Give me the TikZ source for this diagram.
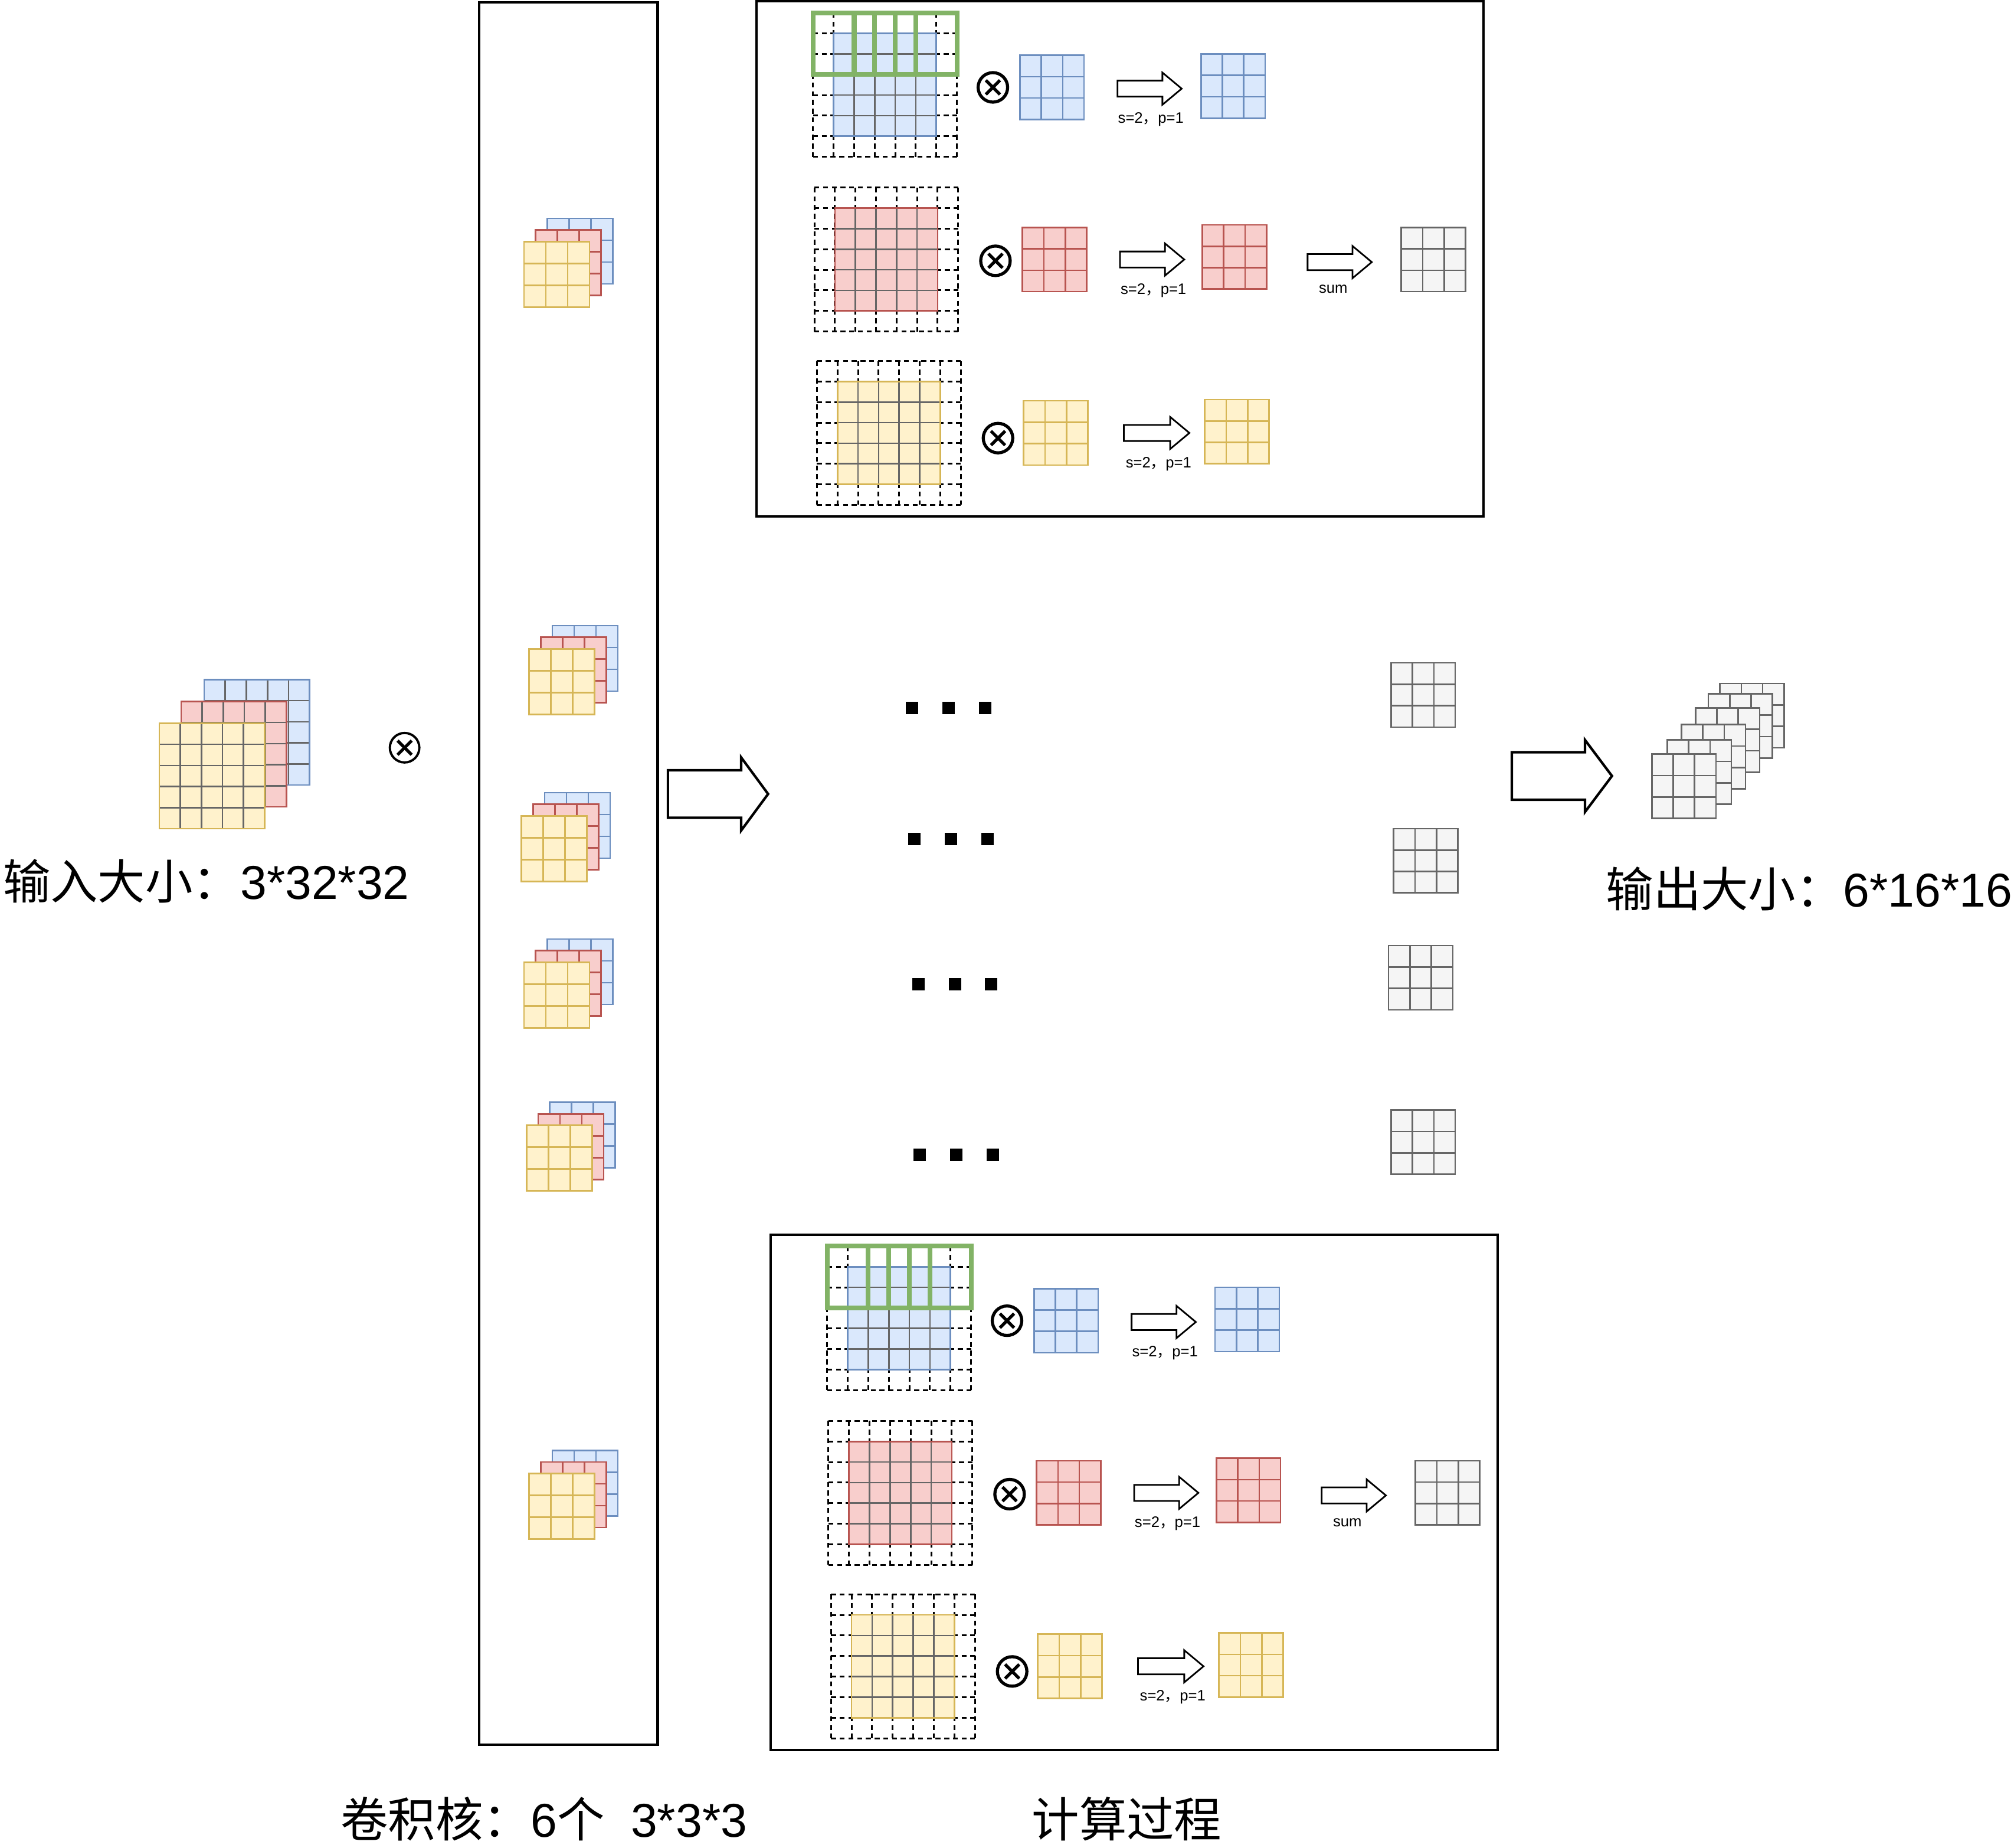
\documentclass[tikz,border=0pt]{standalone}
\usepackage{fontspec}
\setmainfont{Liberation Sans}
\newfontfamily\cjk{Noto Sans CJK SC}
\usepackage{tikz}
\usetikzlibrary{calc}
\usepackage{xcolor}
\definecolor{cvBlueF}{HTML}{DAE8FC}
\definecolor{cvBlueD}{HTML}{6C8EBF}
\definecolor{cvRedF}{HTML}{F8CECC}
\definecolor{cvRedD}{HTML}{B85450}
\definecolor{cvYelF}{HTML}{FFF2CC}
\definecolor{cvYelD}{HTML}{D6B656}
\definecolor{cvGrayF}{HTML}{F5F5F5}
\definecolor{cvGrayD}{HTML}{666666}
\definecolor{cvGreen}{HTML}{82B366}
% feature map: x, y, cells, size, fill, inner lines, border
\newcommand{\cvmap}[7]{
  \begin{scope}[shift={(#1,#2)}]
    \fill[#5] (0,0) rectangle (#4,#4);
    \foreach \k in {1,...,#3}{
      \draw[#6, line width=0.75pt] ({\k*#4/#3},0) -- ({\k*#4/#3},#4);
      \draw[#6, line width=0.75pt] (0,{\k*#4/#3}) -- (#4,{\k*#4/#3});}
    \draw[#7, line width=0.75pt] (0,0) rectangle (#4,#4);
  \end{scope}}
% kernel 3*3*3 stack, blue layer at x, y
\newcommand{\cvkern}[2]{
  \cvmap{#1}{#2}{3}{51}{cvBlueF}{cvBlueD}{cvBlueD}
  \cvmap{#1-9}{#2+9}{3}{51}{cvRedF}{cvRedD}{cvRedD}
  \cvmap{#1-18}{#2+18}{3}{51}{cvYelF}{cvYelD}{cvYelD}}
% padded 5*5 map inside a dashed 7*7 frame
\newcommand{\cvpad}[4]{
  \foreach \k in {0,...,7}{
    \draw[dgrid] ({#1+\k*16},#2) -- ++(0,112);
    \draw[dgrid] (#1,{#2+\k*16}) -- ++(112,0);}
  \cvmap{#1+16}{#2+16}{5}{80}{#3}{cvGrayD}{#4}}
% block arrow: x, y (tail middle), length, body, head, head length, line width
\newcommand{\cvarrow}[7]{
  \draw[line width=#7, fill=white, line join=miter] (#1,#2-#4/2) -- (#1+#3-#6,#2-#4/2)
    -- (#1+#3-#6,#2-#5/2) -- (#1+#3,#2) -- (#1+#3-#6,#2+#5/2)
    -- (#1+#3-#6,#2+#4/2) -- (#1,#2+#4/2) -- cycle;}
% one computation box: name prefix, shift
\newcommand{\cvcalc}[3]{
  \begin{scope}[shift={(#2,#3)}]
    \draw[frame] (589,1) rectangle (1155,402);
    \cvpad{633}{10}{cvBlueF}{cvBlueD}
    \cvpad{634}{146}{cvRedF}{cvRedD}
    \cvpad{636}{281}{cvYelF}{cvYelD}
    \foreach \g in {0,2,4}{\draw[win] ({633+\g*16},10) rectangle ++(48,48);}
    \node[otimes] (#1o1) at (773,68) {};
    \node[otimes] (#1o2) at (775,203) {};
    \node[otimes] (#1o3) at (777,341) {};
    \cvmap{794}{43}{3}{50}{cvBlueF}{cvBlueD}{cvBlueD}
    \cvmap{796}{177}{3}{50}{cvRedF}{cvRedD}{cvRedD}
    \cvmap{797}{312}{3}{50}{cvYelF}{cvYelD}{cvYelD}
    \cvarrow{870}{69}{50}{12.5}{25}{15}{0.8pt}
    \cvarrow{872}{202}{50}{12.5}{25}{15}{0.8pt}
    \cvarrow{875}{337}{51}{12.5}{25}{15}{0.8pt}
    \node[sml] (#1s1) at (896,93) {s=2{\cjk ，}p=1};
    \node[sml] (#1s2) at (898,226) {s=2{\cjk ，}p=1};
    \node[sml] (#1s3) at (902,361) {s=2{\cjk ，}p=1};
    \cvmap{935}{42}{3}{50}{cvBlueF}{cvBlueD}{cvBlueD}
    \cvmap{936}{175}{3}{50}{cvRedF}{cvRedD}{cvRedD}
    \cvmap{938}{311}{3}{50}{cvYelF}{cvYelD}{cvYelD}
    \cvarrow{1018}{204}{50}{12.5}{25}{15}{0.8pt}
    \node[sml] (#1sum) at (1038,225) {sum};
    \cvmap{1091}{177}{3}{50}{cvGrayF}{cvGrayD}{cvGrayD}
  \end{scope}}

\begin{document}
\begin{tikzpicture}[x=0.02177cm, y=-0.02177cm,
  frame/.style={draw=black, line width=1.2pt},
  dgrid/.style={draw=black, line width=0.85pt, dash pattern=on 2.4pt off 1.8pt},
  win/.style={draw=cvGreen, line width=2.3pt},
  otimes/.style={circle, draw, line width=1.5pt, minimum size=0.5cm, inner sep=0pt,
    path picture={\draw[line width=1.5pt]
      ([shift={(-0.12cm,-0.12cm)}]path picture bounding box.center) -- ([shift={(0.12cm,0.12cm)}]path picture bounding box.center)
      ([shift={(-0.12cm,0.12cm)}]path picture bounding box.center) -- ([shift={(0.12cm,-0.12cm)}]path picture bounding box.center);}},
  dotsq/.style={fill=black, minimum size=0.21cm, inner sep=0pt},
  lbl/.style={font=\fontsize{22.9}{27}\selectfont, inner sep=0pt, anchor=west},
  sml/.style={font=\fontsize{7.3}{9}\selectfont, inner sep=0pt}]
\useasboundingbox (0,0) rectangle (1568,1438);

% ── input 3*32*32
\cvmap{159}{529}{5}{82}{cvBlueF}{cvGrayD}{cvBlueD}
\cvmap{141}{546}{5}{82}{cvRedF}{cvGrayD}{cvRedD}
\cvmap{124}{563}{5}{82}{cvYelF}{cvGrayD}{cvYelD}
\node[otimes, line width=1.1pt] (oin) at (315,582) {};
\node[lbl] (inlbl) at (2,686) {{\cjk 输入大小：}3*32*32};

% ── six kernels
\draw[frame] (373,2) rectangle (512,1358);
\foreach \x/\y in {426/170,430/487,424/617,426/731,428/858,430/1129}{\cvkern{\x}{\y}}
\node[lbl] (krlbl) at (265,1416) {{\cjk 卷积核：}6{\cjk 个}\ \ 3*3*3};

\cvarrow{520}{618}{78}{37}{57}{21}{1.2pt}

% ── computation
\cvcalc{t}{0}{0}
\cvcalc{b}{11}{960}
\foreach \r/\x/\y in {1/710/551,2/712/653,3/715/766,4/716/899}{
  \node[dotsq] (d\r a) at (\x,\y) {};
  \node[dotsq] (d\r b) at (\x+28.4,\y) {};
  \node[dotsq] (d\r c) at (\x+56.8,\y) {};}
\foreach \x/\y in {1083/516,1085/645,1081/736,1083/864}{
  \cvmap{\x}{\y}{3}{50}{cvGrayF}{cvGrayD}{cvGrayD}}
\node[lbl] (cplbl) at (803,1416) {{\cjk 计算过程}};

% ── output 6*16*16
\cvarrow{1177}{604}{78}{37}{56}{21}{1.2pt}
\foreach \x/\y in {1339/532,1330/540,1320/551,1309/564,1298/576,1286/587}{
  \cvmap{\x}{\y}{3}{50}{cvGrayF}{cvGrayD}{cvGrayD}}
\node[lbl] (outlbl) at (1250,692) {{\cjk 输出大小：}6*16*16};
\end{tikzpicture}
\end{document}
